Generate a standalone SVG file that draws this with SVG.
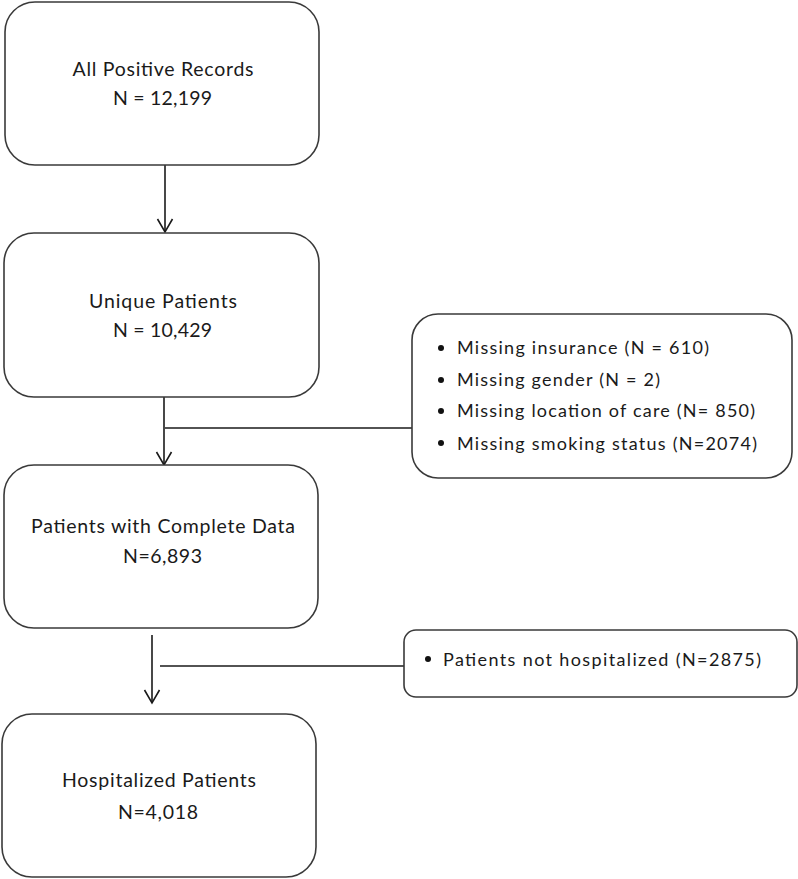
<svg xmlns="http://www.w3.org/2000/svg" width="798" height="879" viewBox="0 0 798 879">
<style>
.box{fill:#fff;stroke:#3a3a3a;stroke-width:1.6}
.t{font-family:Lato,"Liberation Sans",sans-serif;font-size:19.5px;fill:#1a1a1a;text-anchor:middle}
.s{font-family:Lato,"Liberation Sans",sans-serif;font-size:18px;fill:#1a1a1a}
.ln{stroke:#1a1a1a;stroke-width:1.6;fill:none}
.dot{fill:#111}
</style>
<defs>
<marker id="arr" markerWidth="20" markerHeight="20" refX="16" refY="10" orient="auto" markerUnits="userSpaceOnUse" viewBox="0 0 20 20">
<path d="M3,2.5 L16,10 L3,17.5" fill="none" stroke="#1a1a1a" stroke-width="1.6"/>
</marker>
</defs>
<rect width="798" height="879" fill="#fff"/>
<g id="connectors">
<line class="ln" x1="165" y1="165" x2="165" y2="232" marker-end="url(#arr)"/>
<line class="ln" x1="164" y1="397" x2="164" y2="465" marker-end="url(#arr)"/>
<line class="ln" x1="165" y1="428" x2="412" y2="428"/>
<line class="ln" x1="152" y1="635" x2="152" y2="703" marker-end="url(#arr)"/>
<line class="ln" x1="160" y1="666" x2="404" y2="666"/>
</g>
<g id="node-all-positive">
<rect class="box" x="5" y="2" width="314" height="163" rx="30" ry="30"/>
<text class="t" x="163" y="76" textLength="181">All Positive Records</text>
<text class="t" x="162.5" y="105" textLength="99">N = 12,199</text>
</g>
<g id="node-unique">
<rect class="box" x="4" y="233" width="315" height="164" rx="30" ry="30"/>
<text class="t" x="163" y="308" textLength="148">Unique Patients</text>
<text class="t" x="162.5" y="337" textLength="99">N = 10,429</text>
</g>
<g id="node-complete">
<rect class="box" x="4" y="465" width="314" height="163" rx="30" ry="30"/>
<text class="t" x="163" y="532.5" textLength="264">Patients with Complete Data</text>
<text class="t" x="162.5" y="563" textLength="79">N=6,893</text>
</g>
<g id="node-hospitalized">
<rect class="box" x="2" y="714" width="314" height="163" rx="30" ry="30"/>
<text class="t" x="159" y="787" textLength="194">Hospitalized Patients</text>
<text class="t" x="158" y="819" textLength="80">N=4,018</text>
</g>
<g id="node-missing">
<rect class="box" x="412" y="314" width="380" height="164" rx="26" ry="26"/>
<circle class="dot" cx="441" cy="348" r="3"/>
<circle class="dot" cx="441" cy="380" r="3"/>
<circle class="dot" cx="441" cy="411" r="3"/>
<circle class="dot" cx="441" cy="443" r="3"/>
<text class="s" x="457" y="354" textLength="252">Missing insurance (N = 610)</text>
<text class="s" x="457" y="386" textLength="203">Missing gender (N = 2)</text>
<text class="s" x="457" y="417" textLength="298">Missing location of care (N= 850)</text>
<text class="s" x="457" y="450" textLength="300">Missing smoking status (N=2074)</text>
</g>
<g id="node-not-hospitalized">
<rect class="box" x="404" y="630" width="393" height="67" rx="12" ry="12"/>
<circle class="dot" cx="428" cy="659" r="3"/>
<text class="s" x="443" y="665.5" textLength="318">Patients not hospitalized (N=2875)</text>
</g>
</svg>
